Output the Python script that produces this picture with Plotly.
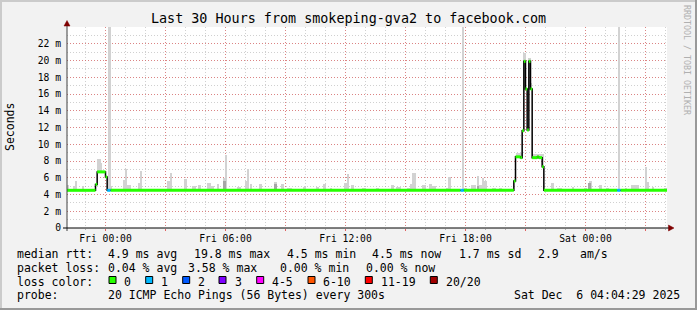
import plotly.graph_objects as go
from datetime import datetime

# ---------------- data ----------------
title_text = "Last 30 Hours from smokeping-gva2 to facebook.com"
range_start = "2025-12-04 22:04:29"
range_end = "2025-12-06 04:04:29"

# median RTT (ms), step series: value holds from med_t[i] to med_t[i+1]
med_t = ["2025-12-04 22:00", "2025-12-04 23:30", "2025-12-04 23:35", "2025-12-05 00:00",
         "2025-12-05 00:05", "2025-12-05 00:15", "2025-12-05 17:45", "2025-12-05 17:55",
         "2025-12-05 20:25", "2025-12-05 20:30", "2025-12-05 20:45", "2025-12-05 20:50",
         "2025-12-05 20:55", "2025-12-05 21:00", "2025-12-05 21:05", "2025-12-05 21:10",
         "2025-12-05 21:15", "2025-12-05 21:20", "2025-12-05 21:35", "2025-12-05 21:40",
         "2025-12-05 21:50", "2025-12-05 21:55", "2025-12-06 01:35", "2025-12-06 01:45",
         "2025-12-06 04:05"]
med_v = [4.5, 5.2, 6.7, 6.1, 4.5, 4.5, 4.5, 4.5, 5.6, 8.5, 8.4, 11.6, 19.9, 16.6, 11.7,
         19.9, 16.6, 8.4, 8.5, 8.4, 7.3, 4.5, 4.5, 4.5, 4.5]
med_loss = [0, 0, 0, 0, 1, 0, 1, 0, 0, 0, 0, 0, 0, 0, 0, 0, 0, 0, 0, 0, 0, 0, 1, 0, 0]

# smoke (spread of pings): light band from median up to smoke_top
smoke_start = ["2025-12-04 22:05", "2025-12-04 22:25", "2025-12-04 22:30", "2025-12-04 22:50",
               "2025-12-04 23:35", "2025-12-04 23:45", "2025-12-05 00:10", "2025-12-05 00:15",
               "2025-12-05 00:55", "2025-12-05 01:00", "2025-12-05 01:05", "2025-12-05 01:40",
               "2025-12-05 01:45", "2025-12-05 02:25", "2025-12-05 03:05", "2025-12-05 03:15",
               "2025-12-05 03:55", "2025-12-05 04:20", "2025-12-05 04:40", "2025-12-05 05:05",
               "2025-12-05 05:15", "2025-12-05 05:35", "2025-12-05 05:55", "2025-12-05 06:00",
               "2025-12-05 06:35", "2025-12-05 07:00", "2025-12-05 07:05", "2025-12-05 07:15",
               "2025-12-05 07:40", "2025-12-05 08:25", "2025-12-05 08:45", "2025-12-05 09:05",
               "2025-12-05 09:55", "2025-12-05 10:30", "2025-12-05 10:55", "2025-12-05 11:15",
               "2025-12-05 11:55", "2025-12-05 12:05", "2025-12-05 12:15", "2025-12-05 12:50",
               "2025-12-05 13:30", "2025-12-05 14:15", "2025-12-05 14:30", "2025-12-05 15:05",
               "2025-12-05 15:15", "2025-12-05 15:20", "2025-12-05 15:50", "2025-12-05 16:10",
               "2025-12-05 16:20", "2025-12-05 17:00", "2025-12-05 17:10", "2025-12-05 17:50",
               "2025-12-05 17:55", "2025-12-05 18:15", "2025-12-05 18:35", "2025-12-05 18:40",
               "2025-12-05 18:50", "2025-12-05 18:55", "2025-12-05 19:20", "2025-12-05 19:40",
               "2025-12-05 20:30", "2025-12-05 20:55", "2025-12-05 21:10", "2025-12-05 21:15",
               "2025-12-05 21:20", "2025-12-05 21:50", "2025-12-05 22:15", "2025-12-05 22:35",
               "2025-12-05 23:20", "2025-12-05 23:55", "2025-12-06 00:10", "2025-12-06 00:40",
               "2025-12-06 01:00", "2025-12-06 01:38", "2025-12-06 02:00", "2025-12-06 02:15",
               "2025-12-06 03:00", "2025-12-06 03:05", "2025-12-06 03:20", "2025-12-06 03:55"]
smoke_end = ["2025-12-04 22:10", "2025-12-04 22:30", "2025-12-04 22:35", "2025-12-04 22:55",
             "2025-12-04 23:45", "2025-12-04 23:50", "2025-12-05 00:15", "2025-12-05 00:20",
             "2025-12-05 01:00", "2025-12-05 01:05", "2025-12-05 01:15", "2025-12-05 01:45",
             "2025-12-05 01:50", "2025-12-05 02:30", "2025-12-05 03:15", "2025-12-05 03:20",
             "2025-12-05 04:05", "2025-12-05 04:30", "2025-12-05 04:45", "2025-12-05 05:15",
             "2025-12-05 05:25", "2025-12-05 05:40", "2025-12-05 06:00", "2025-12-05 06:05",
             "2025-12-05 06:45", "2025-12-05 07:05", "2025-12-05 07:10", "2025-12-05 07:20",
             "2025-12-05 07:50", "2025-12-05 08:35", "2025-12-05 08:55", "2025-12-05 09:20",
             "2025-12-05 10:00", "2025-12-05 10:40", "2025-12-05 11:00", "2025-12-05 11:20",
             "2025-12-05 12:05", "2025-12-05 12:10", "2025-12-05 12:25", "2025-12-05 13:00",
             "2025-12-05 13:40", "2025-12-05 14:25", "2025-12-05 14:45", "2025-12-05 15:15",
             "2025-12-05 15:20", "2025-12-05 15:30", "2025-12-05 16:00", "2025-12-05 16:20",
             "2025-12-05 16:30", "2025-12-05 17:10", "2025-12-05 17:15", "2025-12-05 17:55",
             "2025-12-05 18:05", "2025-12-05 18:30", "2025-12-05 18:40", "2025-12-05 18:50",
             "2025-12-05 18:55", "2025-12-05 19:05", "2025-12-05 19:30", "2025-12-05 19:50",
             "2025-12-05 20:50", "2025-12-05 21:00", "2025-12-05 21:15", "2025-12-05 21:20",
             "2025-12-05 21:50", "2025-12-05 21:55", "2025-12-05 22:25", "2025-12-05 22:50",
             "2025-12-05 23:25", "2025-12-06 00:05", "2025-12-06 00:20", "2025-12-06 00:50",
             "2025-12-06 01:10", "2025-12-06 01:43", "2025-12-06 02:05", "2025-12-06 02:40",
             "2025-12-06 03:05", "2025-12-06 03:10", "2025-12-06 03:25", "2025-12-06 04:05"]
smoke_top = [5.1, 5.0, 5.6, 5.0, 8.2, 7.8, 40, 5.0, 5.7, 7.0, 5.1, 5.4, 6.8, 4.7, 5.6, 6.6,
             5.9, 5.0, 5.1, 5.4, 5.0, 5.3, 6.0, 8.7, 4.9, 5.6, 7.1, 5.3, 5.3, 5.5, 5.2, 4.8,
             4.9, 4.9, 5.2, 4.8, 5.4, 6.4, 5.1, 4.8, 4.8, 5.1, 4.9, 4.8, 5.3, 6.6, 5.1, 5.3,
             5.0, 4.8, 6.1, 40, 4.8, 5.1, 6.2, 5.1, 6.0, 5.6, 4.8, 4.8, 9.0, 20.9, 20.3, 17.3,
             8.8, 8.8, 5.4, 4.8, 4.9, 4.8, 5.6, 5.1, 4.8, 40, 4.8, 5.1, 7.3, 5.5, 4.9, 4.8]

# denser smoke core (darker gray)
dark_start = ["2025-12-05 05:55", "2025-12-05 08:25", "2025-12-05 18:35", "2025-12-06 00:10"]
dark_end = ["2025-12-05 06:00", "2025-12-05 08:35", "2025-12-05 18:40", "2025-12-06 00:15"]
dark_top = [5.6, 5.3, 5.0, 5.4]

loss_labels = ["0", "1", "2", "3", "4-5", "6-10", "11-19", "20/20"]
loss_colors = ["#26ff00", "#00b8ff", "#0059ff", "#7e00ff", "#ff00ff", "#ff5500", "#ff0000", "#a10000"]

y_tick_vals = [0, 2, 4, 6, 8, 10, 12, 14, 16, 18, 20, 22]
y_tick_text = ["0", "2 m", "4 m", "6 m", "8 m", "10 m", "12 m", "14 m", "16 m", "18 m", "20 m", "22 m"]
x_tick_vals = ["2025-12-05 00:00", "2025-12-05 03:00", "2025-12-05 06:00", "2025-12-05 09:00",
               "2025-12-05 12:00", "2025-12-05 15:00", "2025-12-05 18:00", "2025-12-05 21:00",
               "2025-12-06 00:00", "2025-12-06 03:00"]
x_tick_text = ["Fri 00:00", "", "Fri 06:00", "", "Fri 12:00", "", "Fri 18:00", "", "Sat 00:00", ""]

rtt_label = "median rtt:"
rtt_items = ["4.9 ms avg", "19.8 ms max", "4.5 ms min", "4.5 ms now", "1.7 ms sd", "2.9", "am/s"]
loss_label = "packet loss:"
loss_items = ["0.04 % avg", "3.58 % max", "0.00 % min", "0.00 % now"]
color_label = "loss color:"
probe_label = "probe:"
probe_text = "20 ICMP Echo Pings (56 Bytes) every 300s"
stamp_text = "Sat Dec  6 04:04:29 2025"
y_title = "Seconds"
watermark = "RRDTOOL / TOBI OETIKER"

# ---------------- layout constants ----------------
W, H = 697, 310
L, R, T, B = 67, 667, 27, 228
MONO = "DejaVu Sans Mono"


def px(x):
    return (x - L) / (R - L)


def py(y):
    return (B - y) / (B - T)


def dt(s):
    return datetime.strptime(s, "%Y-%m-%d %H:%M")


def median_at(t):
    v = med_v[0]
    for tt, vv in zip(med_t, med_v):
        if dt(tt) <= t:
            v = vv
    return v


fig = go.Figure()


def add_smoke(starts, ends, tops, color):
    xs, ws, bases, hs = [], [], [], []
    for s, e, top in zip(starts, ends, tops):
        a, b = dt(s), dt(e)
        mid = a + (b - a) / 2
        base = median_at(a)
        xs.append(mid.strftime("%Y-%m-%d %H:%M:%S"))
        ws.append((b - a).total_seconds() * 1000)
        bases.append(base)
        hs.append(top - base)
    fig.add_trace(go.Bar(x=xs, y=hs, base=bases, width=ws, marker=dict(color=color, line=dict(width=0)),
                         hoverinfo="skip", showlegend=False))


add_smoke(smoke_start, smoke_end, smoke_top, "#d2d2d2")
add_smoke(dark_start, dark_end, dark_top, "#a6a6a6")

# black median step line
fig.add_trace(go.Scatter(x=med_t, y=med_v, mode="lines", line=dict(color="#000000", width=1.5, shape="hv"),
                         hoverinfo="skip", showlegend=False))

# coloured horizontal parts by loss
segs = {}
for i in range(len(med_t) - 1):
    c = loss_colors[med_loss[i]]
    xs, ys = segs.setdefault(c, ([], []))
    xs += [med_t[i], med_t[i + 1], None]
    ys += [med_v[i], med_v[i], None]
for c, (xs, ys) in segs.items():
    fig.add_trace(go.Scatter(x=xs, y=ys, mode="lines", line=dict(color=c, width=3),
                             hoverinfo="skip", showlegend=False))

MGRID = "rgba(228,70,70,0.55)"
GRID = "rgba(150,150,150,0.45)"
DASH = "1px,2px"

fig.update_layout(
    width=W, height=H,
    margin=dict(l=L, r=W - R, t=T, b=H - B, pad=0),
    paper_bgcolor="#f2f2f2", plot_bgcolor="#ffffff",
    bargap=0, barmode="overlay",
    xaxis=dict(type="date", range=[range_start, range_end], automargin=False,
               tickvals=x_tick_vals, ticktext=x_tick_text,
               showgrid=True, gridcolor=MGRID, griddash=DASH, gridwidth=1,
               ticks="outside", ticklen=2, tickcolor="#e06060", tickwidth=1,
               minor=dict(dtick=3600000, tick0="2025-12-05 00:00", showgrid=True, gridcolor=GRID,
                          griddash=DASH, ticks="outside", ticklen=1, tickcolor="#b0b0b0"),
               showline=False, zeroline=False, ticklabelstandoff=-1,
               tickfont=dict(family=MONO, size=9.7, color="#000000")),
    yaxis=dict(range=[0, 24], automargin=False, tickvals=y_tick_vals, ticktext=y_tick_text,
               showgrid=True, gridcolor=MGRID, griddash=DASH, gridwidth=1,
               minor=dict(dtick=1, tick0=0, showgrid=True, gridcolor=GRID, griddash=DASH),
               ticks="", showline=False, zeroline=False, ticklabelstandoff=5,
               tickfont=dict(family=MONO, size=9.7, color="#000000")),
)

shapes = []
# frame
shapes.append(dict(type="rect", xref="paper", yref="paper", x0=px(0), x1=px(W), y0=py(2), y1=py(0),
                   fillcolor="#cbcbcb", line=dict(width=0), layer="above"))
shapes.append(dict(type="rect", xref="paper", yref="paper", x0=px(0), x1=px(2), y0=py(H), y1=py(0),
                   fillcolor="#cbcbcb", line=dict(width=0), layer="above"))
shapes.append(dict(type="rect", xref="paper", yref="paper", x0=px(W - 2), x1=px(W), y0=py(H), y1=py(0),
                   fillcolor="#999999", line=dict(width=0), layer="above"))
shapes.append(dict(type="rect", xref="paper", yref="paper", x0=px(0), x1=px(W), y0=py(H), y1=py(H - 2),
                   fillcolor="#999999", line=dict(width=0), layer="above"))
# axis lines
shapes.append(dict(type="line", xref="paper", yref="paper", x0=px(L), x1=px(L), y0=py(231), y1=py(24),
                   line=dict(color="#404040", width=1), layer="above"))
shapes.append(dict(type="line", xref="paper", yref="paper", x0=px(63), x1=px(670), y0=py(B), y1=py(B),
                   line=dict(color="#000000", width=1), layer="above"))
# arrows
shapes.append(dict(type="path", xref="paper", yref="paper",
                   path=f"M {px(L)} {py(20.5)} L {px(L - 3)} {py(26)} L {px(L + 3)} {py(26)} Z",
                   fillcolor="#7f0000", line=dict(color="#7f0000", width=0.5), layer="above"))
shapes.append(dict(type="path", xref="paper", yref="paper",
                   path=f"M {px(674)} {py(B)} L {px(668.5)} {py(B - 3)} L {px(668.5)} {py(B + 3)} Z",
                   fillcolor="#7f0000", line=dict(color="#7f0000", width=0.5), layer="above"))

# legend colour boxes
box_x = [109, 145.7, 182.7, 219, 256.7, 308, 365.3, 430.3]
label_x = [123.3, 160, 197.3, 234.3, 271, 322, 380.3, 445.3]
for bx, c in zip(box_x, loss_colors):
    shapes.append(dict(type="rect", xref="paper", yref="paper", x0=px(bx), x1=px(bx + 7),
                       y0=py(283.5), y1=py(276.5), fillcolor=c, line=dict(color="#000000", width=1),
                       layer="above"))
fig.update_layout(shapes=shapes)


def nb(s):
    return s.replace("  ", " \u00a0")


def ann(x, y, text, size=11.5, xanchor="left", color="#000000", angle=0):
    return dict(x=px(x), y=py(y), xref="paper", yref="paper", text=nb(text), showarrow=False,
                xanchor=xanchor, yanchor="middle", textangle=angle, borderpad=0,
                font=dict(family=MONO, size=size, color=color))


anns = []
anns.append(ann(348, 19, title_text, size=13.4, xanchor="center"))
anns.append(ann(10, 127, y_title, size=11.5, xanchor="center", angle=-90))
anns.append(ann(687, 60, watermark, size=8.3, xanchor="center", color="#b0b0b0", angle=90))

L1, L2, L3, L4 = 254.3, 268.0, 281.5, 295.2
X0 = 15.5
anns.append(ann(X0, L1, rtt_label))
for x, t in zip([106.5, 193, 285.5, 371.5, 457.5, 536.5, 578.8], rtt_items):
    anns.append(ann(x, L1, t))
anns.append(ann(X0, L2, loss_label))
for x, t in zip([106.5, 187, 278.8, 364.8], loss_items):
    anns.append(ann(x, L2, t))
anns.append(ann(X0, L3, color_label))
for x, t in zip(label_x, loss_labels):
    anns.append(ann(x - 0.5, L3, t))
anns.append(ann(X0, L4, probe_label))
anns.append(ann(106.5, L4, probe_text))
anns.append(ann(680.5, L4, stamp_text, xanchor="right"))
fig.update_layout(annotations=anns)

fig.write_html("out.html")
